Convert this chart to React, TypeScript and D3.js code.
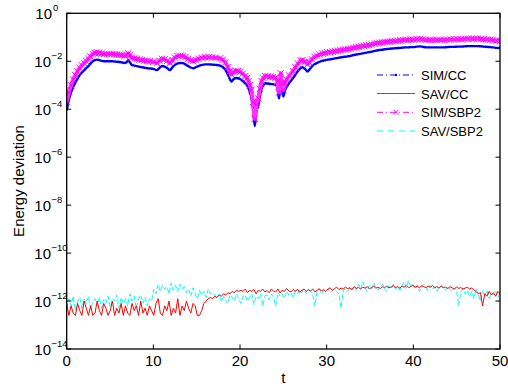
import React from "react";
import * as d3 from "d3";

// ---- data (log10 of energy deviation) ----
const SIM_T = [0,0.25,0.5,0.75,1,1.25,1.5,1.75,2,2.25,2.5,2.75,3,3.25,3.5,3.75,4,4.3,4.6,4.9,5.2,5.5,5.8,6.1,6.4,6.7,6.9,7.1,7.3,7.5,7.8,8.1,8.4,8.7,9.0,9.3,9.6,10.0,10.4,10.7,11.0,11.3,11.6,11.9,12.2,12.5,12.8,13.1,13.4,13.7,14.0,14.3,14.6,14.9,15.2,15.6,16.0,16.4,16.8,17.2,17.7,18.0,18.3,18.6,18.8,19.0,19.25,19.5,19.75,20.0,20.3,20.6,20.8,21.0,21.15,21.3,21.5,21.7,21.9,22.1,22.3,22.5,22.7,22.9,23.2,23.5,23.8,24.1,24.3,24.5,24.7,24.85,25.0,25.2,25.4,25.7,26.1,26.4,26.7,27.0,27.2,27.5,27.8,28.0,28.3,28.6,28.9,29.2,29.5,29.8,30.1,30.4,30.7,31.0,31.3,31.6,31.9,32.2,32.5,32.8,33.1,33.4,33.7,34.0,34.3,34.6,34.9,35.2,35.5,35.8,36.1,36.4,36.7,37.0,37.3,37.6,37.9,38.2,38.5,38.8,39.1,39.4,39.7,40.0,40.4,40.8,41.1,41.5,41.9,42.3,42.7,43.1,43.5,43.9,44.3,44.7,45.1,45.5,45.9,46.3,46.7,47.0,47.4,47.8,48.1,48.5,48.9,49.2,49.6,50.0];
const SIM_CC = [-4.05,-3.6,-3.3,-3.07,-2.88,-2.72,-2.58,-2.47,-2.38,-2.29,-2.2,-2.1,-2.0,-1.95,-1.93,-1.95,-1.98,-2.0,-2.0,-2.0,-2.0,-2.01,-2.02,-2.03,-2.05,-2.07,-2.04,-1.96,-2.05,-2.15,-2.18,-2.2,-2.23,-2.25,-2.27,-2.29,-2.3,-2.32,-2.37,-2.28,-2.2,-2.22,-2.28,-2.37,-2.25,-2.15,-2.09,-2.07,-2.08,-2.13,-2.2,-2.26,-2.29,-2.25,-2.2,-2.15,-2.13,-2.13,-2.14,-2.15,-2.18,-2.24,-2.35,-2.55,-2.72,-2.85,-2.75,-2.7,-2.71,-2.74,-2.82,-2.92,-3.0,-3.15,-3.3,-3.5,-4.0,-4.7,-4.1,-3.85,-3.45,-3.13,-3.0,-2.92,-2.93,-2.95,-2.96,-2.98,-3.1,-3.55,-3.0,-3.2,-3.47,-3.2,-3.06,-2.9,-2.71,-2.55,-2.4,-2.28,-2.25,-2.32,-2.43,-2.35,-2.22,-2.12,-2.07,-2.02,-1.98,-1.96,-1.93,-1.92,-1.9,-1.88,-1.86,-1.84,-1.82,-1.81,-1.79,-1.77,-1.74,-1.72,-1.7,-1.68,-1.66,-1.64,-1.62,-1.6,-1.57,-1.55,-1.53,-1.52,-1.5,-1.49,-1.48,-1.47,-1.46,-1.45,-1.44,-1.43,-1.42,-1.42,-1.41,-1.41,-1.39,-1.38,-1.4,-1.42,-1.42,-1.42,-1.42,-1.42,-1.42,-1.41,-1.4,-1.4,-1.39,-1.39,-1.38,-1.37,-1.37,-1.37,-1.37,-1.38,-1.39,-1.4,-1.41,-1.42,-1.44,-1.45];
const SIM_SBP2 = [-3.7,-3.3,-3.0,-2.77,-2.58,-2.42,-2.28,-2.17,-2.08,-1.99,-1.9,-1.8,-1.7,-1.65,-1.63,-1.65,-1.68,-1.7,-1.7,-1.7,-1.7,-1.71,-1.72,-1.73,-1.75,-1.77,-1.74,-1.67,-1.75,-1.85,-1.88,-1.9,-1.93,-1.95,-1.97,-1.99,-2.0,-2.02,-2.07,-1.98,-1.9,-1.92,-1.98,-2.07,-1.95,-1.85,-1.79,-1.77,-1.78,-1.83,-1.9,-1.96,-1.99,-1.95,-1.9,-1.85,-1.83,-1.83,-1.84,-1.85,-1.88,-1.94,-2.05,-2.25,-2.42,-2.55,-2.45,-2.4,-2.41,-2.44,-2.52,-2.62,-2.7,-2.85,-3.0,-3.2,-3.7,-4.4,-3.8,-3.55,-3.15,-2.83,-2.7,-2.62,-2.63,-2.65,-2.66,-2.68,-2.85,-3.3,-2.5,-2.9,-3.2,-2.9,-2.76,-2.6,-2.41,-2.25,-2.1,-1.98,-1.95,-2.02,-2.13,-2.05,-1.92,-1.82,-1.77,-1.72,-1.68,-1.66,-1.63,-1.62,-1.6,-1.58,-1.56,-1.54,-1.52,-1.51,-1.49,-1.47,-1.44,-1.42,-1.4,-1.38,-1.36,-1.34,-1.32,-1.3,-1.27,-1.25,-1.23,-1.22,-1.2,-1.19,-1.18,-1.17,-1.16,-1.14,-1.13,-1.12,-1.11,-1.11,-1.1,-1.1,-1.08,-1.07,-1.09,-1.11,-1.11,-1.11,-1.11,-1.11,-1.11,-1.1,-1.09,-1.09,-1.08,-1.08,-1.07,-1.06,-1.06,-1.06,-1.06,-1.07,-1.08,-1.09,-1.1,-1.12,-1.14,-1.15];

const SAV_CC = [-12.1,-12.6,-12.2,-12.5,-12.6,-12.1,-12.4,-12.6,-12.0,-12.3,-12.6,-12.2,-12.6,-12.5,-12.0,-12.4,-12.6,-12.1,-12.3,-12.6,-12.4,-12.0,-12.6,-12.3,-12.5,-12.1,-12.6,-12.2,-12.5,-12.6,-12.1,-12.4,-12.2,-12.6,-12.0,-12.5,-12.3,-12.6,-12.2,-12.4,-12.6,-12.1,-11.9,-12.5,-12.6,-12.2,-12.4,-12.0,-12.6,-12.3,-12.5,-11.9,-12.6,-12.2,-12.4,-12.0,-12.3,-12.5,-12.1,-12.2,-12.6,-12.6,-12.4,-12.1,-12.0,
-11.9,-11.85,-11.9,-11.8,-11.85,-11.75,-11.8,-11.7,-11.75,-11.65,-11.7,-11.6,-11.65,-11.55,-11.6,
-11.55,-11.6,-11.5,-11.65,-11.55,-11.6,-11.52,-11.7,-11.55,-11.6,-11.5,-11.62,-11.56,-11.65,-11.5,-11.58,-11.62,-11.5,-11.66,-11.55,-11.6,-11.48,-11.58,-11.62,-11.52,-11.6,-11.5,-11.64,-11.55,-11.5,-11.6,-11.52,-11.58,-11.5,-11.62,-11.55,-11.48,-11.58,-11.52,-11.6,
-11.5,-11.45,-11.55,-11.48,-11.42,-11.52,-11.46,-11.5,-11.42,-11.48,-11.45,-11.52,-11.4,-11.47,-11.43,-11.5,-11.42,-11.46,-11.4,-11.48,-11.44,-11.38,-11.46,-11.42,-11.48,-11.4,-11.44,-11.38,-11.45,-11.42,-11.36,-11.44,-11.4,-11.46,-11.38,-11.42,-11.36,-11.44,-11.4,-11.34,-11.42,-11.38,-11.45,-11.36,-11.4,-11.44,-11.38,-11.42,-11.36,-11.45,-11.4,-11.46,-11.38,-11.44,-11.42,-11.48,-11.4,-11.45,-11.5,-11.42,-11.47,-11.44,-11.5,-11.46,
-11.42,-11.5,-11.45,-11.55,-11.6,-11.7,-11.65,-12.2,-11.7,-11.8,-11.6,-11.75,-11.65,-11.8,-11.6,-11.7];

const SAV_SBP2 = [-12.3,-11.9,-12.2,-11.8,-12.4,-12.0,-11.85,-12.3,-11.9,-12.1,-11.8,-12.35,-12.0,-11.9,-12.2,-11.85,-12.3,-11.95,-12.1,-11.8,-12.25,-11.9,-12.0,-11.75,-12.3,-11.85,-12.1,-11.9,-12.2,-11.7,-12.0,-11.8,-12.3,-11.9,-11.75,-12.1,-11.85,-12.2,-11.9,-12.0,
-11.5,-11.7,-11.3,-11.6,-11.35,-11.5,-11.4,-11.7,-11.25,-11.55,-11.35,-11.6,-11.3,-11.5,-11.4,-11.65,
-11.5,-11.8,-11.45,-11.7,-11.9,-11.55,-11.75,-11.6,-11.85,-11.5,-11.7,-11.65,
-11.75,-11.9,-11.7,-12.0,-11.8,-11.95,-12.1,-11.75,-11.85,-12.0,-11.7,-11.9,-12.1,-11.8,-11.75,-12.0,-11.85,-11.7,-12.15,-11.8,-11.9,-11.7,-12.2,-11.8,-11.75,-11.95,-11.7,-11.85,-12.2,-11.65,-11.8,-11.7,-11.9,-11.6,-11.75,-11.65,-11.85,-11.6,-11.7,-11.55,
-11.65,-11.5,-11.7,-11.55,-11.6,-11.75,-12.2,-11.6,-11.5,-11.7,-11.55,-11.6,-11.5,-11.65,-11.55,-11.5,-11.6,-11.7,-12.3,-11.55,-11.5,-11.6,-11.45,-11.55,
-11.4,-11.55,-11.3,-11.5,-11.2,-11.45,-11.6,-11.35,-11.5,-11.25,-11.45,-11.55,-11.4,-11.3,-11.5,-11.6,-11.35,-11.45,-11.3,-11.5,-11.4,-11.55,-11.35,-11.2,-11.45,-11.15,-11.4,-11.3,-11.5,-11.35,-11.6,-11.4,-11.3,-11.45,-11.55,-11.35,-11.5,-11.4,-11.6,-11.45,-11.35,-11.5,-11.55,-11.4,-11.5,-11.6,-11.45,-11.55,
-12.2,-11.6,-11.5,-11.7,-11.55,-11.8,-11.6,-11.9,-11.5,-11.7,-12.0,-11.6,-11.8,-11.55,-11.9,-11.65,-11.75,-11.6,-11.85,-11.7];

const X_TICKS = [0, 10, 20, 30, 40, 50];
const Y_EXPONENTS = [0, -2, -4, -6, -8, -10, -12, -14];
const LEGEND = ["SIM/CC", "SAV/CC", "SIM/SBP2", "SAV/SBP2"];

const W = 508, H = 387;
const M = { left: 66.7, right: 500, top: 13.3, bottom: 349 };
const FONT = "'Liberation Sans', Arial, Helvetica, sans-serif";

export default function App() {
  const x = d3.scaleLinear().domain([0, 50]).range([M.left, M.right]);
  const y = d3.scaleLog().domain([1e-14, 1]).range([M.bottom, M.top]);

  const simPts = SIM_T.map((t, i) => [t, Math.pow(10, SIM_CC[i])] as [number, number]);
  const sbpPts = SIM_T.map((t, i) => [t, Math.pow(10, SIM_SBP2[i])] as [number, number]);
  const tOf = (n: number, i: number) => (i * 50) / (n - 1);
  const redPts = SAV_CC.map((v, i) => [tOf(SAV_CC.length, i), Math.pow(10, v)] as [number, number]);
  const cyanPts = SAV_SBP2.map((v, i) => [tOf(SAV_SBP2.length, i), Math.pow(10, v)] as [number, number]);

  const line = d3.line<[number, number]>().x(d => x(d[0])).y(d => y(d[1]));
  const smooth = d3.line<[number, number]>().x(d => x(d[0])).y(d => y(d[1])).curve(d3.curveMonotoneX);

  const xMark = (cx: number, cy: number, s: number, key: any, color: string) => (
    <path key={key} d={`M${cx - s},${cy - s}L${cx + s},${cy + s}M${cx - s},${cy + s}L${cx + s},${cy - s}`} stroke={color} strokeWidth={1} fill="none" />
  );

  const legendY = [75, 93.5, 112.3, 131];
  const lx0 = 377, lx1 = 415;

  return (
    <svg width={W} height={H} style={{ position: "absolute", left: 0, top: 0, background: "#fff" }} fontFamily={FONT}>
      <rect x={0} y={0} width={W} height={H} fill="#fff" />
      <defs>
        <clipPath id="clip"><rect x={M.left} y={M.top} width={M.right - M.left} height={M.bottom - M.top} /></clipPath>
      </defs>
      <g clipPath="url(#clip)">
        <path d={line(cyanPts) || ""} stroke="#00ffff" strokeWidth={1} fill="none" strokeDasharray="5,2" />
        <path d={line(redPts) || ""} stroke="#ff0000" strokeWidth={1} fill="none" />
        <path d={smooth(simPts) || ""} stroke="#0000ff" strokeWidth={2.4} fill="none" />
        <path d={smooth(sbpPts) || ""} stroke="#ff33ff" strokeWidth={4} fill="none" />
        {sbpPts.map((p, i) => xMark(x(p[0]), y(p[1]), 3.2, i, "#ff00ff"))}
      </g>
      <rect x={M.left} y={M.top} width={M.right - M.left} height={M.bottom - M.top} fill="none" stroke="#000" strokeWidth={1.3} />
      {X_TICKS.map(t => (
        <g key={"xt" + t}>
          <line x1={x(t)} x2={x(t)} y1={M.bottom} y2={M.bottom - 4.5} stroke="#000" />
          <line x1={x(t)} x2={x(t)} y1={M.top} y2={M.top + 4.5} stroke="#000" />
          <text x={x(t)} y={365.5} textAnchor="middle" fontSize={15}>{t}</text>
        </g>
      ))}
      {Y_EXPONENTS.map(e => (
        <g key={"yt" + e}>
          <line x1={M.left} x2={M.left + 4.5} y1={y(Math.pow(10, e))} y2={y(Math.pow(10, e))} stroke="#000" />
          <line x1={M.right} x2={M.right - 4.5} y1={y(Math.pow(10, e))} y2={y(Math.pow(10, e))} stroke="#000" />
          <text x={e === 0 ? 52 : 51} y={y(Math.pow(10, e)) + 5.5} textAnchor="end" fontSize={15}>10</text>
          <text x={e === 0 ? 53 : 51.5} y={y(Math.pow(10, e)) - 2} textAnchor="start" fontSize={9.5}>{e === 0 ? "0" : "\u2212" + Math.abs(e)}</text>
        </g>
      ))}
      <text x={283.3} y={383} textAnchor="middle" fontSize={15}>t</text>
      <text transform={`translate(24,181) rotate(-90)`} textAnchor="middle" fontSize={15}>Energy deviation</text>
      <g>
        <line x1={lx0} x2={lx1} y1={legendY[0]} y2={legendY[0]} stroke="#0000ff" strokeDasharray="6,3,1,3" />
        <circle cx={(lx0 + lx1) / 2} cy={legendY[0]} r={1.2} fill="#0000ff" />
        <line x1={lx0} x2={lx1} y1={legendY[1]} y2={legendY[1]} stroke="#ff2020" strokeWidth={1.2} />
        <line x1={lx0} x2={lx1} y1={legendY[2]} y2={legendY[2]} stroke="#ff00ff" strokeDasharray="6,3,1,3" />
        {xMark((lx0 + lx1) / 2, legendY[2], 2.5, "lx", "#ff00ff")}
        <line x1={lx0} x2={lx1} y1={legendY[3]} y2={legendY[3]} stroke="#00ffff" strokeDasharray="6,5" />
        {LEGEND.map((s, i) => (
          <text key={s} x={421} y={legendY[i] + 5} fontSize={13}>{s}</text>
        ))}
      </g>
    </svg>
  );
}
